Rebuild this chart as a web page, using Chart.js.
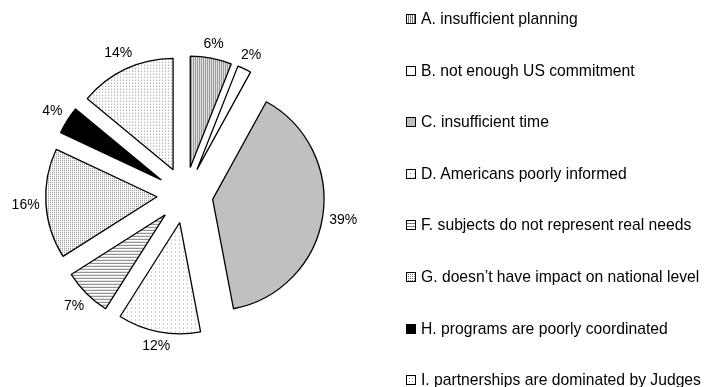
<!DOCTYPE html>
<html>
<head>
<meta charset="utf-8">
<script src="https://cdn.jsdelivr.net/npm/chart.js@4/dist/chart.umd.min.js"></script>
<style>
  body { margin: 0; background: #fff; }
  #wrap { position: relative; width: 710px; height: 387px; }
  #legend { position: absolute; left: 406px; top: 0; font: 15.7px "Liberation Sans", Arial, sans-serif; color: #000; }
  .item { position: absolute; left: 0; height: 20px; white-space: nowrap; display: flex; align-items: center; }
  .item canvas { width: 10px; height: 10px; margin-right: 5px; }
</style>
</head>
<body>
<div id="wrap">
  <canvas id="chart" width="710" height="387"></canvas>
  <div id="legend"></div>
</div>
<script>
const categories = [
  'A. insufficient planning',
  'B. not enough US commitment',
  'C. insufficient time',
  'D. Americans poorly informed',
  'F. subjects do not represent real needs',
  'G. doesn\u2019t have impact on national level',
  'H. programs are poorly coordinated',
  'I. partnerships are dominated by Judges'
];
const shares = [6, 2, 39, 12, 7, 16, 4, 14];

// fill style per slice
const fillKinds = ['vlines', 'blank', 'gray', 'sparseDots', 'hlines', 'denseDots', 'black', 'dots'];

function makeTile(kind) {
  const c = document.createElement('canvas');
  const x = c.getContext('2d');
  const sizes = { vlines: [2, 1], hlines: [1, 3], sparseDots: [4, 4], dots: [3, 3], denseDots: [2, 2] };
  const [w, h] = sizes[kind] || [1, 1];
  c.width = w; c.height = h;
  x.fillStyle = '#fff';
  x.fillRect(0, 0, w, h);
  switch (kind) {
    case 'vlines': x.fillStyle = '#7a7a7a'; x.fillRect(0, 0, 1, 1); break;
    case 'hlines': x.fillStyle = '#7a7a7a'; x.fillRect(0, 0, 1, 1); break;
    case 'sparseDots': x.fillStyle = '#9a9a9a'; x.fillRect(0, 0, 1, 1); break;
    case 'dots': x.fillStyle = '#8a8a8a'; x.fillRect(0, 0, 1, 1); break;
    case 'denseDots': x.fillStyle = '#808080'; x.fillRect(0, 0, 1, 1); break;
    case 'gray': x.fillStyle = '#c0c0c0'; x.fillRect(0, 0, 1, 1); break;
    case 'black': x.fillStyle = '#000'; x.fillRect(0, 0, 1, 1); break;
  }
  return c;
}

const ctx = document.getElementById('chart').getContext('2d');
const patterns = fillKinds.map(k => ctx.createPattern(makeTile(k), 'repeat'));

const EXPLODE = 28;

// draws every slice pushed out along its bisector, then the % labels
const explodePlugin = {
  id: 'explode',
  beforeDatasetDraw(chart, args) {
    const c = chart.ctx;
    const arcs = args.meta.data;
    arcs.forEach(arc => {
      const mid = (arc.startAngle + arc.endAngle) / 2;
      c.save();
      c.translate(Math.cos(mid) * EXPLODE, Math.sin(mid) * EXPLODE);
      arc.draw(c, chart.chartArea);
      c.restore();
    });

    c.save();
    c.font = '14px "Liberation Sans", Arial, sans-serif';
    c.fillStyle = '#000';
    c.textAlign = 'center';
    c.textBaseline = 'middle';
    arcs.forEach((arc, i) => {
      const mid = (arc.startAngle + arc.endAngle) / 2;
      const ux = Math.cos(mid), uy = Math.sin(mid);
      const text = shares[i] + '%';
      const w = c.measureText(text).width;
      const dist = EXPLODE + arc.outerRadius + 6 + (w / 2) * Math.abs(ux) + 6 * Math.abs(uy);
      c.fillText(text, arc.x + ux * dist, arc.y + uy * dist);
    });
    c.restore();
    return false;
  }
};

new Chart(ctx, {
  type: 'pie',
  data: {
    labels: categories,
    datasets: [{
      data: shares,
      backgroundColor: patterns,
      borderColor: '#000',
      borderWidth: 1.3
    }]
  },
  options: {
    responsive: false,
    animation: false,
    events: [],
    layout: { padding: { left: 73, top: 83, right: 413, bottom: 80 } },
    plugins: { legend: { display: false }, tooltip: { enabled: false } }
  },
  plugins: [explodePlugin]
});

// legend on the right
const legend = document.getElementById('legend');
categories.forEach((name, i) => {
  const row = document.createElement('div');
  row.className = 'item';
  row.style.top = (9 + i * 51.6) + 'px';
  const sw = document.createElement('canvas');
  sw.width = 10; sw.height = 10;
  const sx = sw.getContext('2d');
  sx.fillStyle = sx.createPattern(makeTile(fillKinds[i]), 'repeat');
  sx.fillRect(0, 0, 10, 10);
  sx.strokeStyle = '#000';
  sx.lineWidth = 1;
  sx.strokeRect(0.5, 0.5, 9, 9);
  row.appendChild(sw);
  const label = document.createElement('span');
  label.textContent = name;
  row.appendChild(label);
  legend.appendChild(row);
});
</script>
</body>
</html>
